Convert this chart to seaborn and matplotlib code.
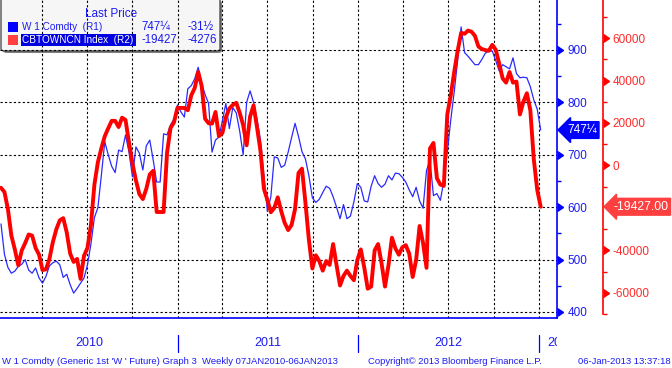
import numpy as np
import pandas as pd
import seaborn as sns
import matplotlib.pyplot as plt
import matplotlib.dates as mdates
import matplotlib.ticker as mticker
from matplotlib import markers
from matplotlib.patches import FancyBboxPatch, Rectangle
from matplotlib.transforms import Bbox, TransformedBbox, blended_transform_factory

# weekly closes 08JAN2010 .. 04JAN2013
dates = pd.date_range('2010-01-08', periods=157, freq='W-FRI')

# W 1 Comdty, generic 1st wheat future (R1)
wheat = [568, 510, 485, 474, 478, 487, 491, 500, 480, 474,
         484, 465, 455, 468, 488, 494, 497, 490, 466, 472,
         452, 436, 445, 455, 465, 490, 530, 580, 599, 660,
         725, 700, 678, 666, 709, 706, 738, 705, 658, 715,
         703, 671, 717, 728, 690, 648, 648, 740, 738, 757,
         768, 795, 782, 772, 826, 832, 845, 867, 836, 815,
         798, 705, 728, 734, 765, 798, 750, 790, 780, 745,
         700, 800, 822, 800, 768, 728, 660, 592, 620, 696,
         694, 676, 680, 705, 733, 760, 735, 706, 692, 660,
         618, 609, 615, 628, 640, 636, 620, 600, 578, 605,
         578, 583, 610, 645, 638, 612, 610, 640, 660, 645,
         638, 644, 660, 652, 665, 664, 657, 648, 633, 620,
         638, 612, 598, 670, 690, 622, 626, 613, 650, 705,
         766, 820, 880, 944, 895, 888, 880, 872, 872, 882,
         894, 898, 898, 880, 860, 872, 868, 864, 885, 855,
         847, 848, 847, 830, 805, 787, 747.25]

# CBTOWNCN Index, CFTC wheat non-commercial net positions (R2)
cbot_net = [-10500, -12500, -20500, -33000, -39500, -47000, -40000, -36500, -32500, -33000,
            -38800, -42000, -49200, -48900, -44000, -36000, -30000, -25800, -24800, -31500,
            -41500, -45400, -44000, -53400, -42500, -38800, -28000, -9000, 1500, 8000,
            13800, 17500, 21000, 21000, 18100, 22500, 21400, 10800, 1000, -7000,
            -13500, -15800, -11000, -4200, -2500, -21900, -21900, -21900, 6000, 17600,
            20300, 27100, 27100, 27100, 26000, 33000, 36500, 44000, 37500, 22000,
            19900, 19700, 25200, 13800, 15300, 22700, 26800, 28500, 29500, 24800,
            19000, 9500, 23000, 28300, 18000, 7000, -11000, -16200, -22000, -20000,
            -15000, -21500, -27000, -30400, -28000, -20500, -3500, -1500, -17500, -35000,
            -48500, -42300, -45000, -49500, -45000, -46800, -37000, -47000, -56500, -52000,
            -49500, -52000, -54000, -44500, -39500, -48000, -58000, -57000, -40000, -37000,
            -46000, -57000, -47000, -34000, -39000, -42000, -38500, -37500, -41500, -52500,
            -44500, -28500, -36500, -48200, 8000, 10600, -6000, -9000, -9600, 24000,
            33000, 44000, 54000, 62400, 62000, 63500, 63000, 61000, 56000, 54800,
            54300, 54000, 56800, 54500, 48000, 41000, 39000, 44000, 39000, 39500,
            24000, 30000, 34000, 26100, 3000, -11500, -19427]

blue_ticks = [400, 500, 600, 700, 800, 900]
blue_minor = [450, 550, 650, 750, 850, 950]
red_ticks = [-60000, -40000, 0, 20000, 40000, 60000]
red_minor = [-70000, -50000, -30000, -10000, 10000, 30000, 50000, 70000]
years = [2010, 2011, 2012, 2013]

legend_rows = [("W 1 Comdty  (R1)", "747\u00bc", "-31\u00bd"),
               ("CBTOWNCN Index  (R2)", "-19427", "-4276")]
wheat_tag = "747\u00bc"
net_tag = "-19427.00"
footer = ["W 1 Comdty (Generic 1st 'W ' Future) Graph 3  Weekly 07JAN2010-06JAN2013",
          "Copyright\u00a9 2013 Bloomberg Finance L.P.",
          "06-Jan-2013 13:37:18"]

BLUE = '#0000ff'
BLUE_TXT = '#1c1cf0'
RED = '#ff0000'
RED_TXT = '#ff2a2a'

sns.set_style('white')
plt.rcParams['font.family'] = ['Liberation Sans', 'DejaVu Sans']

W, H = 672, 368
fig = plt.figure(figsize=(W / 100, H / 100), dpi=100)


def fx(px):
    return px / W


def fy(py):
    return 1 - py / H


ax = fig.add_axes([0, fy(318), fx(557), 318 / H])
ax.patch.set_alpha(0)

df = pd.DataFrame({'date': dates, 'wheat': wheat, 'net': cbot_net})

sns.lineplot(data=df, x='date', y='wheat', ax=ax, color='#2a2aff', linewidth=0.9, legend=False)
ax2 = ax.twinx()
sns.lineplot(data=df, x='date', y='net', ax=ax2, color=RED, linewidth=2.8, legend=False)

ax.set_xlim(pd.Timestamp('2010-01-06'), pd.Timestamp('2013-02-06'))
ax.set_ylim(388.5, 995.4)
ax2.set_ylim(-71800, 77900)
for a in (ax, ax2):
    a.set_xlabel('')
    a.set_ylabel('')

# spines
ax.spines['left'].set_visible(False)
ax.spines['top'].set_visible(False)
ax.spines['right'].set_color(BLUE)
ax.spines['bottom'].set_color(BLUE)
ax.spines['right'].set_linewidth(1.2)
ax.spines['bottom'].set_linewidth(1.2)
for s in ['left', 'top', 'bottom']:
    ax2.spines[s].set_visible(False)
red_x = 603 / 557
ax2.spines['right'].set_position(('axes', red_x))
ax2.spines['right'].set_color(RED)
ax2.spines['right'].set_linewidth(1.2)
ax2.spines['right'].set_bounds(-70000, 77900)

# blue axis (R1)
ax.yaxis.tick_right()
ax.set_yticks(blue_ticks, labels=[str(v) for v in blue_ticks])
ax.yaxis.set_minor_locator(mticker.FixedLocator(blue_minor))
ax.tick_params(axis='y', which='major', length=0, pad=7.5, labelcolor=BLUE_TXT, labelsize=8.5)
ax.tick_params(axis='y', which='minor', length=3, width=1, color=BLUE, direction='out')
ax.plot(np.ones(len(blue_ticks)), blue_ticks, transform=ax.get_yaxis_transform(),
        ls='none', marker=markers.CARETRIGHTBASE, ms=6, color=BLUE, clip_on=False)

# red axis (R2)
ax2.set_yticks(red_ticks, labels=[str(v) for v in red_ticks])
ax2.yaxis.set_minor_locator(mticker.FixedLocator(red_minor))
ax2.tick_params(axis='y', which='major', length=0, pad=7, labelcolor=RED_TXT, labelsize=8.5)
ax2.tick_params(axis='y', which='minor', length=3, width=1, color=RED, direction='out')
ax2.plot(np.full(len(red_ticks), red_x), red_ticks, transform=ax2.get_yaxis_transform(),
         ls='none', marker=markers.CARETRIGHTBASE, ms=6, color=RED, clip_on=False)

# x axis: quarterly grid, monthly ticks
ax.xaxis.set_major_locator(mdates.MonthLocator(bymonth=[1, 4, 7, 10]))
ax.xaxis.set_minor_locator(mdates.MonthLocator())
ax.tick_params(axis='x', which='both', length=4, width=1, color=BLUE, direction='out',
               labelbottom=False)
ax.grid(True, which='major', color='black', linestyle=(0, (2, 2)), linewidth=0.8)

# year labels + separators
xt = ax.get_xaxis_transform()
clip = TransformedBbox(Bbox([[0, -1], [1, 0]]), ax.transAxes)
xmin = ax.get_xlim()[0]
for y in years:
    start = pd.Timestamp(f'{y}-01-01')
    end = pd.Timestamp(f'{y + 1}-01-01')
    if y > years[0]:
        ax.plot([start, start], [-0.053, -0.107], transform=xt, color=BLUE, lw=0.9, clip_on=False)
    if y == years[-1]:
        t = ax.text(start + pd.Timedelta(days=17), -0.08, str(y), transform=xt, ha='left',
                    va='center', color=BLUE_TXT, fontsize=9)
        t.set_clip_box(clip)
        t.set_clip_on(True)
    else:
        left = max(mdates.date2num(start), xmin)
        mid = (left + mdates.date2num(end)) / 2
        ax.text(mid, -0.08, str(y), transform=xt, ha='center', va='center',
                color=BLUE_TXT, fontsize=9, clip_on=False)

# last value tags
ax.text(1.018, 747.25, wheat_tag, transform=blended_transform_factory(ax.transAxes, ax.transData),
        ha='left', va='center', color='white', fontsize=8.5, zorder=10, clip_on=False,
        bbox=dict(boxstyle='larrow,pad=0.2', fc=BLUE, ec=BLUE))
ax2.text(red_x + 0.018, cbot_net[-1], net_tag,
         transform=blended_transform_factory(ax2.transAxes, ax2.transData),
         ha='left', va='center', color='white', fontsize=8.7, zorder=10, clip_on=False,
         bbox=dict(boxstyle='larrow,pad=0.2', fc='#ff4040', ec='#ff4040'))

# legend box (Bloomberg style)
shadow = FancyBboxPatch((fx(3), fy(53)), fx(219), fy(0) - fy(52),
                        boxstyle='round,pad=0,rounding_size=0.006', transform=fig.transFigure,
                        fc='#808080', ec='none', zorder=-2)
box = FancyBboxPatch((fx(1), fy(51)), fx(219), fy(-2) - fy(51),
                     boxstyle='round,pad=0,rounding_size=0.006', transform=fig.transFigure,
                     fc='#f6f6f6', ec='#505050', lw=1, zorder=-1)
fig.patches.extend([shadow, box])

fig.text(fx(85), fy(14), 'Last Price', color=BLUE_TXT, fontsize=8.5, va='center', ha='left')
row_y = [27, 40]
row_col = [BLUE, '#ff4040']
for (name, last, chg), yy, c in zip(legend_rows, row_y, row_col):
    fig.patches.append(Rectangle((fx(8), fy(yy + 5)), fx(10), fy(0) - fy(10),
                                 transform=fig.transFigure, fc=c, ec='none', zorder=2))
    tc = BLUE_TXT
    if yy == row_y[1]:
        fig.patches.append(Rectangle((fx(21), fy(yy + 6)), fx(115), fy(0) - fy(12),
                                     transform=fig.transFigure, fc='#0000e0', ec='none', zorder=2))
        tc = 'white'
    fig.text(fx(22), fy(yy), name, color=tc, fontsize=7.2, va='center', ha='left', zorder=3)
    fig.text(fx(141), fy(yy), last, color=BLUE_TXT, fontsize=8.3, va='center', ha='left')
    fig.text(fx(188), fy(yy), chg, color=BLUE_TXT, fontsize=8.3, va='center', ha='left')

# footer
fig.text(fx(2), fy(361), footer[0], color=BLUE_TXT, fontsize=6.8, va='center', ha='left')
fig.text(fx(368), fy(361), footer[1], color=BLUE_TXT, fontsize=6.8, va='center', ha='left')
fig.text(fx(671), fy(361), footer[2], color=BLUE_TXT, fontsize=6.8, va='center', ha='right')

fig.savefig('out.png', dpi=100)
